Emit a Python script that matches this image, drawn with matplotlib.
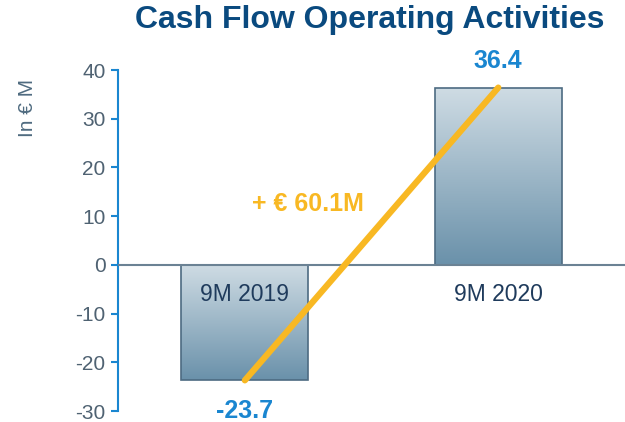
import numpy as np
import matplotlib.pyplot as plt
from matplotlib.colors import LinearSegmentedColormap

plt.rcParams['font.family'] = ['Liberation Sans', 'DejaVu Sans']
plt.rcParams['axes.unicode_minus'] = False

categories = ['9M 2019', '9M 2020']
values = [-23.7, 36.4]
value_labels = ['-23.7', '36.4']
delta_label = '+ € 60.1M'

fig = plt.figure(figsize=(6.25, 4.22), dpi=100)
ax = fig.add_axes([0.189, 0.026, 0.811, 0.808])

x = np.arange(len(categories))
bars = ax.bar(x, values, width=0.5, color='none', edgecolor='#4d6b82', linewidth=1.2, zorder=3)

# gradient fill, light at top, darker at bottom
cmap = LinearSegmentedColormap.from_list('g', ['#cfdce4', '#6a91aa'])
grad = np.linspace(0, 1, 256).reshape(-1, 1)
for b in bars:
    x0, y0 = b.get_x(), b.get_y()
    w, h = b.get_width(), b.get_height()
    top, bot = max(y0, y0 + h), min(y0, y0 + h)
    im = ax.imshow(grad, cmap=cmap, aspect='auto', extent=[x0, x0 + w, bot, top],
                   origin='upper', zorder=2)
    im.set_clip_path(b)

ax.set_xlim(-0.5, 1.5)
ax.set_ylim(-30, 40)
ax.set_yticks(range(-30, 41, 10))

ax.axhline(0, color='#6b8294', linewidth=1.5, zorder=4)

for s in ['top', 'right', 'bottom']:
    ax.spines[s].set_visible(False)
ax.spines['left'].set_color('#1a86d0')
ax.spines['left'].set_linewidth(1.5)
ax.tick_params(axis='y', colors='#1a86d0', length=5, width=1.5, labelsize=15,
               labelcolor='#4f6272', pad=4)
ax.set_xticks([])

ax.set_ylabel('In € M', color='#4f6b80', fontsize=15)
ax.yaxis.set_label_coords(-0.16, 0.89)

# category labels just below the zero line
for xi, c in zip(x, categories):
    ax.text(xi, -6.0, c, ha='center', va='center', fontsize=16.5, color='#1f3b5c', zorder=6)

# value labels
ax.text(x[1], values[1] + 2.9, value_labels[1], ha='center', va='bottom', fontsize=18,
        fontweight='bold', color='#1a86d0', clip_on=False)
ax.text(x[0], values[0] - 3.9, value_labels[0], ha='center', va='top', fontsize=18,
        fontweight='bold', color='#1a86d0', clip_on=False)

# change line
ax.plot(x, values, color='#f8b823', linewidth=4.5, solid_capstyle='round', zorder=5)
ax.text(0.25, 12.5, delta_label, ha='center', va='center', fontsize=18,
        fontweight='bold', color='#f8b823', zorder=6)

fig.text(0.592, 0.953, 'Cash Flow Operating Activities', ha='center', va='center',
         fontsize=23, fontweight='bold', color='#0a4a7f')

fig.savefig('out.png', dpi=100)
